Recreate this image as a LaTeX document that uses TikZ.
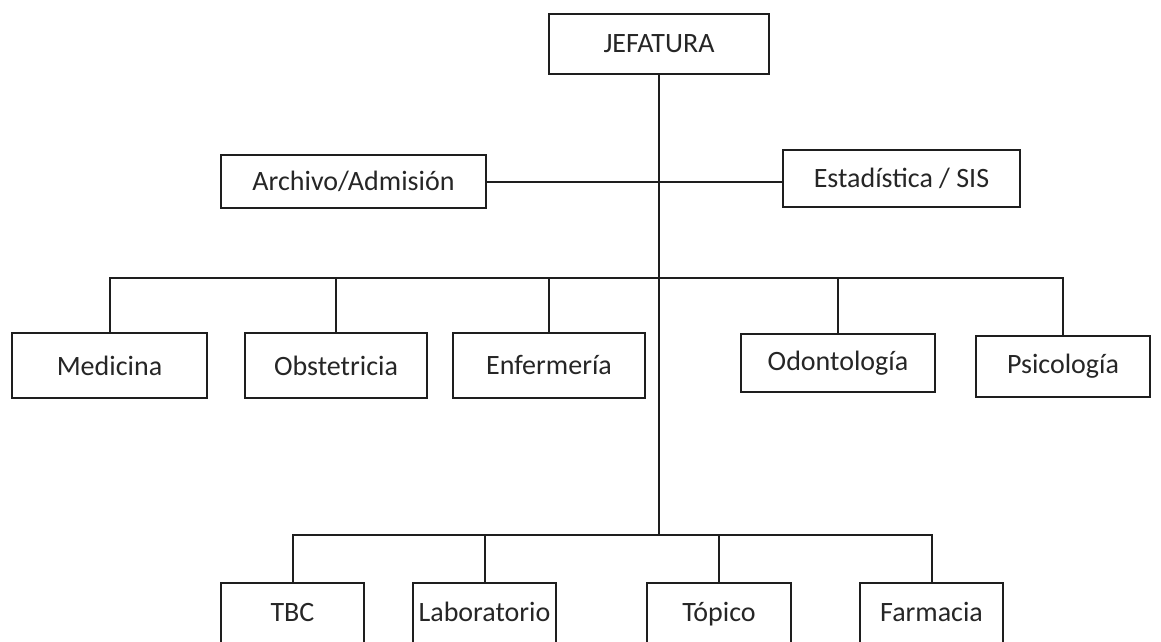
\documentclass[tikz,border=0pt]{standalone}
\usepackage{fontspec}
\setmainfont{Carlito}
\usetikzlibrary{calc}
\definecolor{ink}{HTML}{1E1E1E}
\definecolor{txt}{HTML}{262626}
\tikzset{
  unit/.style={draw=ink, line width=2pt, fill=white, inner sep=0pt,
    text=txt, font=\fontsize{28}{32}\selectfont},
  lowunit/.style={text height=10pt, text depth=10pt},
  link/.style={draw=ink, line width=2pt},
}
% box given by left, top, right, bottom (pixels, y downwards)
\newcommand{\unitbox}[7][]{%
  \node[unit, #1, minimum width={(#5-#3)*1pt}, minimum height={(#6-#4)*1pt}]
    (#2) at ({(#3+#5)/2*1pt},{-(#4+#6)/2*1pt}) {#7};}
\begin{document}
\begin{tikzpicture}[x=1pt,y=-1pt]
\useasboundingbox (0,0) rectangle (1161,642);
\clip (0,0) rectangle (1161,642);
\fill[white] (0,0) rectangle (1161,642);

% levels of the chart
\unitbox{jef}{549}{14}{769}{74}{JEFATURA}
\unitbox{arc}{221}{155}{486}{208}{Archivo/Admisión}
\unitbox{est}{783}{150}{1020}{207}{Estadística / SIS}

\unitbox{med}{12}{333}{207}{398}{Medicina}
\unitbox{obs}{245}{333}{427}{398}{Obstetricia}
\unitbox{enf}{453}{333}{645}{398}{Enfermería}
\unitbox{odo}{741}{334}{935}{392}{Odontología}
\unitbox{psi}{976}{336}{1150}{397}{Psicología}

% the lowest row runs past the lower edge of the page
\unitbox[lowunit]{tbc}{221}{583}{364}{660}{TBC}
\unitbox[lowunit]{lab}{413}{583}{556}{660}{Laboratorio}
\unitbox[lowunit]{top}{647}{583}{791}{660}{Tópico}
\unitbox[lowunit]{far}{860}{583}{1003}{660}{Farmacia}

% bus lines
\coordinate (b2) at (658,278);
\coordinate (b3) at (658,535);

% trunk
\draw[link] (jef.south) -- (jef.south |- b3);

% staff units
\draw[link] (arc.east) -- (arc.east -| est.west);

% main services
\draw[link] (med.north) |- (b2 -| psi.north) -- (psi.north);
\draw[link] (obs.north) -- (obs.north |- b2);
\draw[link] (enf.north) -- (enf.north |- b2);
\draw[link] (odo.north) -- (odo.north |- b2);

% support services
\draw[link] (tbc.north) |- (b3 -| far.north) -- (far.north);
\draw[link] (lab.north) -- (lab.north |- b3);
\draw[link] (top.north) -- (top.north |- b3);
\end{tikzpicture}
\end{document}
